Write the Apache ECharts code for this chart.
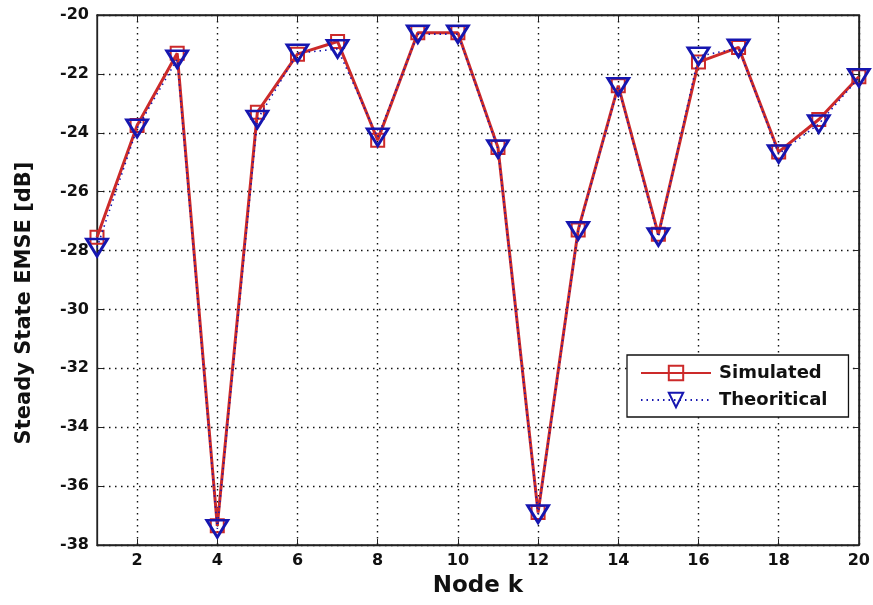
<!DOCTYPE html>
<html>
<head>
<meta charset="utf-8">
<script src="https://cdn.jsdelivr.net/npm/echarts@6/dist/echarts.min.js"></script>
<style>
html,body{margin:0;padding:0;background:#fff;}
#chart{width:873px;height:605px;}
</style>
</head>
<body>
<div id="chart"></div>
<script>
var nodes = [1,2,3,4,5,6,7,8,9,10,11,12,13,14,15,16,17,18,19,20];
var simulated = [-27.55,-23.75,-21.3,-37.35,-23.3,-21.33,-20.9,-24.25,-20.6,-20.6,-24.5,-36.9,-27.3,-22.4,-27.45,-21.6,-21.1,-24.65,-23.55,-22.1];
var theoretical = [-27.9,-23.85,-21.5,-37.45,-23.55,-21.3,-21.15,-24.15,-20.65,-20.65,-24.55,-36.95,-27.33,-22.44,-27.54,-21.4,-21.13,-24.72,-23.7,-22.13];
var xTicks = [2,4,6,8,10,12,14,16,18,20];
var seriesNames = ['Simulated','Theoritical'];

var red = '#cc2a2a';
var blue = '#1616b0';
var font = '"DejaVu Sans", sans-serif';

function pairs(vals){ return nodes.map(function(n,i){ return [n, vals[i]]; }); }

var chart = echarts.init(document.getElementById('chart'), null, {renderer:'canvas'});
var gridLine = {show:true, lineStyle:{color:'#111', type:[1.5,4.5], width:1.4}};
var frame = {show:true, lineStyle:{color:'#222', width:1.3}};
chart.setOption({
  animation:false,
  backgroundColor:'#fff',
  grid:{left:97, top:15, right:14, bottom:60, show:true, borderColor:'#222', borderWidth:1.3, backgroundColor:'#fff'},
  legend:{
    data:seriesNames,
    orient:'vertical',
    left:627, top:355,
    padding:[9,21,8,13],
    itemGap:9,
    itemWidth:70, itemHeight:18,
    backgroundColor:'#fff',
    borderColor:'#111', borderWidth:1.3, borderRadius:0,
    textStyle:{fontFamily:font, fontWeight:'bold', fontSize:18, color:'#111', padding:[0,0,0,3]}
  },
  xAxis:[{
    type:'value', min:1, max:20,
    name:'Node k', nameLocation:'middle', nameGap:30,
    nameTextStyle:{fontFamily:font, fontWeight:'bold', fontSize:23, color:'#111'},
    axisLine:frame,
    axisTick:{show:true, inside:true, length:6, customValues:xTicks, lineStyle:{color:'#222'}},
    axisLabel:{show:true, margin:8, customValues:xTicks, fontFamily:font, fontWeight:'bold', fontSize:16, color:'#111'},
    splitLine:gridLine
  },{
    type:'value', min:1, max:20, position:'top',
    axisLine:frame,
    axisTick:{show:true, inside:true, length:6, customValues:xTicks, lineStyle:{color:'#222'}},
    axisLabel:{show:false},
    splitLine:{show:false}
  }],
  yAxis:[{
    type:'value', min:-38, max:-20, interval:2,
    name:'Steady State EMSE [dB]', nameLocation:'middle', nameGap:62, nameRotate:90,
    nameTextStyle:{fontFamily:font, fontWeight:'bold', fontSize:21, color:'#111', padding:[0,46,0,0]},
    axisLine:frame,
    axisTick:{show:true, inside:true, length:6, lineStyle:{color:'#222'}},
    axisLabel:{show:true, margin:8, fontFamily:font, fontWeight:'bold', fontSize:16, color:'#111'},
    splitLine:gridLine
  },{
    type:'value', min:-38, max:-20, interval:2, position:'right',
    axisLine:frame,
    axisTick:{show:true, inside:true, length:6, lineStyle:{color:'#222'}},
    axisLabel:{show:false},
    splitLine:{show:false}
  }],
  series:[{
    name:seriesNames[0], type:'line', xAxisIndex:0, yAxisIndex:0,
    data:pairs(simulated),
    symbol:'rect', symbolSize:13,
    lineStyle:{color:red, width:3},
    itemStyle:{color:'rgba(255,255,255,0)', borderColor:red, borderWidth:2},
    z:2
  },{
    name:seriesNames[1], type:'line', xAxisIndex:0, yAxisIndex:0,
    data:pairs(theoretical),
    symbol:'triangle', symbolRotate:180, symbolSize:[21,17],
    lineStyle:{color:blue, width:1.6, type:[1.5,4]},
    itemStyle:{color:'rgba(255,255,255,0)', borderColor:blue, borderWidth:2.8},
    z:3
  }]
});
</script>
</body>
</html>
